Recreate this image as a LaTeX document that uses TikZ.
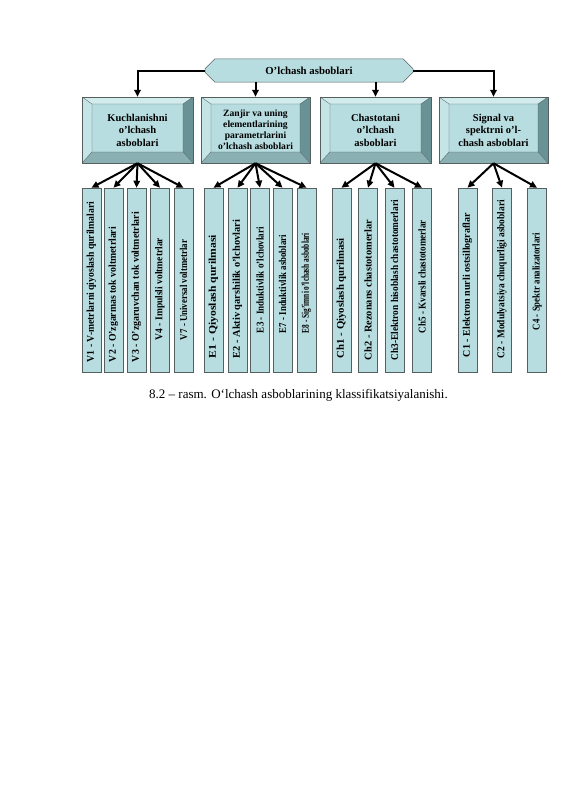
\documentclass[tikz,border=0pt]{standalone}
\usepackage{fontspec}
\setmainfont{Liberation Serif}
\usetikzlibrary{arrows.meta,calc,shapes.misc}
\definecolor{face}{RGB}{183,221,224}
\definecolor{bvtop}{RGB}{210,235,237}
\definecolor{bvleft}{RGB}{197,228,230}
\definecolor{bvright}{RGB}{104,146,150}
\definecolor{bvbottom}{RGB}{138,176,179}
\definecolor{edge}{RGB}{85,95,96}
\tikzset{
  arr/.style={-{Triangle[length=7pt,width=6.5pt]},line width=2pt},
  headbox/.style={
    chamfered rectangle,
    chamfered rectangle xsep=9pt,
    chamfered rectangle ysep=6pt,
    draw=edge, line width=0.5pt, fill=face,
    minimum width=208pt, minimum height=23pt, inner sep=0pt,
    font=\bfseries\fontsize{10.8}{13}\selectfont
  },
  bevel/.style={
    path picture={
      \coordinate (bvnw) at (path picture bounding box.north west);
      \coordinate (bvse) at (path picture bounding box.south east);
      \coordinate (bvne) at (bvnw -| bvse);
      \coordinate (bvsw) at (bvnw |- bvse);
      \coordinate (inw) at ($(bvnw)+(10pt,-7pt)$);
      \coordinate (ine) at ($(bvne)+(-10pt,-7pt)$);
      \coordinate (ise) at ($(bvse)+(-10pt,11pt)$);
      \coordinate (isw) at ($(bvsw)+(10pt,11pt)$);
      \fill[bvtop] (bvnw) -- (bvne) -- (ine) -- (inw) -- cycle;
      \fill[bvleft] (bvnw) -- (inw) -- (isw) -- (bvsw) -- cycle;
      \fill[bvright] (bvne) -- (bvse) -- (ise) -- (ine) -- cycle;
      \fill[bvbottom] (bvsw) -- (isw) -- (ise) -- (bvse) -- cycle;
      \draw[edge,line width=0.3pt] (bvnw) -- (inw) (bvne) -- (ine)
        (bvse) -- (ise) (bvsw) -- (isw) (inw) rectangle (ise);
    }
  },
  catbox/.style={
    bevel, draw=edge, line width=0.5pt, fill=face,
    minimum width=#1, minimum height=66pt, inner sep=0pt, align=center,
    font=\bfseries\fontsize{10.5}{12.5}\selectfont
  },
  vbox/.style={
    draw=edge, line width=0.6pt, fill=face, rotate=90,
    minimum width=184pt, minimum height=19pt, inner sep=0pt,
    font=\bfseries
  }
}

\begin{document}
\begin{tikzpicture}[x=1pt,y=-1pt]
  \useasboundingbox (0,0) rectangle (565,800);

  % top of the tree
  \node[headbox] (top) at (309,70.5) {O’lchash asboblari};

  % four groups
  \node[catbox=111pt] (kuch) at (137.5,130) {Kuchlanishni\\o’lchash\\asboblari};
  \node[catbox=109pt,font=\bfseries\fontsize{9.6}{11}\selectfont] (zanjir) at (255.5,130)
    {Zanjir va uning\\elementlarining\\parametrlarini\\o’lchash asboblari};
  \node[catbox=111pt] (chast) at (375.5,130) {Chastotani\\o’lchash\\asboblari};
  \node[catbox=109pt] (signal) at (493.5,130) {Signal va\\spektrni o’l-\\chash asboblari};

  \draw[arr] (top.west) -| (kuch.north);
  \draw[arr] (top.east) -| (signal.north);
  \draw[arr] (zanjir.north |- top.south) -- (zanjir.north);
  \draw[arr] (chast.north |- top.south) -- (chast.north);

  % instruments: name / x / gap from bottom / text length / text
  \foreach \nm/\x/\g/\len/\txt in {
      v1/91.5/10/160/{V1 - V-metrlarni qiyoslash qurilmalari},
      v2/113.5/10/135/{V2 - O’zgarmas tok voltmetrlari},
      v3/136.5/10/150/{V3 - O’zgaruvchan tok voltmetrlari},
      v4/160/32/102/{V4 - Impulsli voltmetrlar},
      v7/183.5/32/100/{V7 - Universal voltmetrlar},
      e1/213.5/14/123/{E1 - Qiyoslash qurilmasi},
      e2/237.5/14/138/{E2 - Aktiv qarshilik o’lchovlari},
      e3/260/39/106/{E3 - Induktivlik o’lchovlari},
      e7/282.5/39/98/{E7 - Induktivlik asboblari},
      e8/306.5/39/100/{E8 - Sig’imni o’lchash asboblari},
      ch1/341.5/14/120/{Ch1 - Qiyoslash qurilmasi},
      ch2/368/12/140/{Ch2 - Rezonans chastotomerlar},
      ch3/394.5/12/160/{Ch3-Elektron hisoblash chastotomerlari},
      ch5/422/39/113/{Ch5 - Kvarsli chastotomerlar},
      c1/467.5/15/144/{C1 - Elektron nurli ostsillograflar},
      c2/502/14/158/{C2 - Modulyatsiya chuqurligi asboblari},
      c4/537/42/97/{C4 - Spektr analizatorlari}}
    \node[vbox] (\nm) at (\x,280)
      {\makebox[184pt][l]{\hspace*{\g pt}\resizebox{\len pt}{7.2pt}{\txt}}};

  \foreach \p/\c in {kuch/v1,kuch/v2,kuch/v3,kuch/v4,kuch/v7,
      zanjir/e1,zanjir/e2,zanjir/e3,zanjir/e7,zanjir/e8,
      chast/ch1,chast/ch2,chast/ch3,chast/ch5,
      signal/c1,signal/c2,signal/c4}
    \draw[arr] (\p.south) -- (\c.east);

  \node[font=\fontsize{13}{15}\selectfont] (caption) at (298.5,395)
    {8.2 – rasm. O‘lchash asboblarining klassifikatsiyalanishi.};
\end{tikzpicture}
\end{document}
